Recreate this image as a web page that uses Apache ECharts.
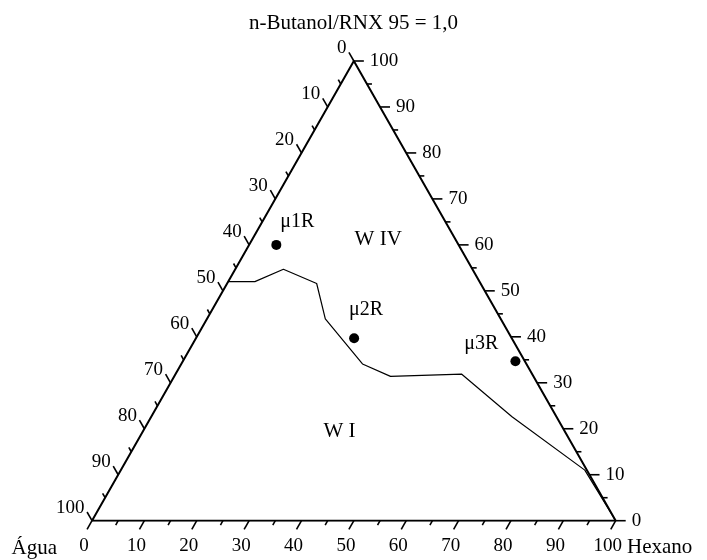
<!DOCTYPE html>
<html>
<head>
<meta charset="utf-8">
<script src="https://cdn.jsdelivr.net/npm/echarts@6/dist/echarts.min.js"></script>
<style>
html,body{margin:0;padding:0;background:#fff;}
#c{width:707px;height:560px;}
</style>
</head>
<body>
<div id="c"></div>
<script>
// ---- data (ternary percentages) ----
var titleText = 'n-Butanol/RNX 95 = 1,0';
var cornerLeft = 'Água';
var cornerRight = 'Hexano';
var tickValues = [0,5,10,15,20,25,30,35,40,45,50,55,60,65,70,75,80,85,90,95,100];
// boundary curve: n-Butanol/RNX % and Hexano % (Água = 100 - both)
var curveButanol = [52, 52, 54.7, 51.6, 43.9, 34.1, 31.4, 31.9, 22.6, 11.0, 0];
var curveHexano  = [0, 5.1, 9.2, 17.1, 22.6, 34.6, 41.3, 54.6, 68.9, 88.6, 100];
// microemulsion points
var pointNames   = ['μ1R', 'μ2R', 'μ3R'];
var pointButanol = [60, 39.7, 34.7];
var pointHexano  = [5.2, 30.2, 63.5];
// region names
var regionNames   = ['W IV', 'W I'];
var regionButanol = [61.1, 19.5];
var regionHexano  = [24.1, 37.5];

var FONT = '"Liberation Serif", "Times New Roman", serif';

function toXY(b, h) { return [h + b / 2, b]; }

var curveData = curveButanol.map(function (b, i) { return toXY(b, curveHexano[i]); });
var pointData = pointButanol.map(function (b, i) { return { value: toXY(b, pointHexano[i]), name: pointNames[i] }; });
var regionData = regionButanol.map(function (b, i) { return { value: toXY(b, regionHexano[i]), name: regionNames[i] }; });
var triangle = [[0, 0], [100, 0], [50, 100], [0, 0]];

var pointLabelPos = [
  { offset: [4, -23], align: 'left' },
  { offset: [-5, -28], align: 'left' },
  { offset: [-17, -17], align: 'right' }
];

function unit(p, q) {
  var dx = q[0] - p[0], dy = q[1] - p[1];
  var l = Math.sqrt(dx * dx + dy * dy);
  return [dx / l, dy / l];
}

function tickSeries(axis) {
  return {
    type: 'custom',
    coordinateSystem: 'cartesian2d',
    clip: false,
    silent: true,
    animation: false,
    z: 5,
    data: tickValues.map(function (v) { return [v]; }),
    renderItem: function (params, api) {
      var v = api.value(0);
      var A = api.coord([0, 0]), Hx = api.coord([100, 0]), T = api.coord([50, 100]);
      var p, d, lx, ly, align;
      var major = v % 10 === 0;
      var len = major ? 10 : 5;
      if (axis === 'bottom') {
        p = api.coord([v, 0]);
        d = unit(T, A);
      } else if (axis === 'right') {
        p = api.coord([100 - v / 2, v]);
        d = [1, 0];
      } else {
        var b = 100 - v;
        p = api.coord([b / 2, b]);
        d = unit(Hx, T);
      }
      var e = [p[0] + d[0] * len, p[1] + d[1] * len];
      var children = [{
        type: 'line',
        shape: { x1: p[0], y1: p[1], x2: e[0], y2: e[1] },
        style: { stroke: '#000', lineWidth: 1.6 }
      }];
      if (major) {
        if (axis === 'bottom') { lx = e[0] - 3; ly = e[1] + 17; align = 'center'; }
        else if (axis === 'right') { lx = e[0] + 6; ly = e[1]; align = 'left'; }
        else { lx = e[0] - 2.5; ly = e[1] - 4; align = 'right'; }
        children.push({
          type: 'text',
          x: lx, y: ly,
          style: { text: String(v), fill: '#000', font: '19px ' + FONT, align: align, verticalAlign: 'middle' }
        });
      }
      return { type: 'group', children: children };
    }
  };
}

var chart = echarts.init(document.getElementById('c'), null, { renderer: 'canvas' });
chart.setOption({
  backgroundColor: '#fff',
  animation: false,
  title: {
    text: titleText,
    left: 'center',
    top: 8,
    textStyle: { fontFamily: FONT, fontSize: 21, fontWeight: 'normal', color: '#000' }
  },
  grid: { left: 92, right: 91.3, top: 61, bottom: 39.3 },
  xAxis: { type: 'value', min: 0, max: 100, show: false },
  yAxis: { type: 'value', min: 0, max: 100, show: false },
  graphic: [
    { type: 'text', right: 707 - 57, top: 538, style: { text: cornerLeft, font: '21px ' + FONT, fill: '#000' } },
    { type: 'text', left: 627, top: 537, style: { text: cornerRight, font: '21px ' + FONT, fill: '#000' } }
  ],
  series: [
    {
      type: 'line', data: triangle, symbol: 'none', silent: true,
      lineStyle: { color: '#000', width: 2 }, z: 4
    },
    {
      type: 'line', data: curveData, symbol: 'none', silent: true,
      lineStyle: { color: '#000', width: 1.2 }, z: 3
    },
    {
      type: 'scatter', data: pointData.map(function (d, i) {
        return {
          value: d.value, name: d.name,
          label: { show: true, formatter: d.name, position: 'inside', offset: pointLabelPos[i].offset, align: pointLabelPos[i].align }
        };
      }),
      symbol: 'circle', symbolSize: 10, silent: true,
      itemStyle: { color: '#000', opacity: 1 },
      label: { color: '#000', fontFamily: FONT, fontSize: 20, verticalAlign: 'middle' }
    },
    {
      type: 'scatter', data: regionData, symbolSize: 1, silent: true,
      itemStyle: { color: '#fff', opacity: 1 },
      label: { show: true, formatter: '{b}', position: 'inside', color: '#000', fontFamily: FONT, fontSize: 21 }
    },
    tickSeries('bottom'),
    tickSeries('right'),
    tickSeries('left')
  ]
});
</script>
</body>
</html>
